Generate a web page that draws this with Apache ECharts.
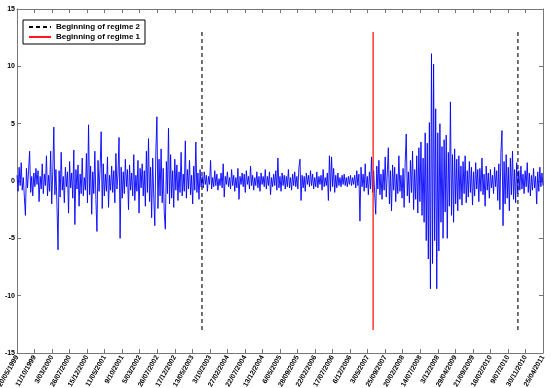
<!DOCTYPE html>
<html>
<head>
<meta charset="utf-8">
<script src="https://cdn.jsdelivr.net/npm/echarts@6/dist/echarts.min.js"></script>
<style>
html,body{margin:0;padding:0;background:#fff;}
#chart{width:551px;height:388px;}
</style>
</head>
<body>
<div id="chart"></div>
<script>
// tick labels on the x axis, one every 100 observations
var dateLabels = ['20/05/1999','11/10/1999','3/03/2000','26/07/2000','15/12/2000','11/05/2001','9/10/2001',
	'5/03/2002','26/07/2002','17/12/2002','13/05/2003','3/10/2003','27/02/2004','22/07/2004','13/12/2004',
	'6/05/2005','28/09/2005','22/02/2006','17/07/2006','6/12/2006','3/05/2007','25/09/2007','20/02/2008',
	'14/07/2008','3/12/2008','29/04/2009','21/09/2009','16/02/2010','9/07/2010','30/11/2010','25/04/2011'];

var returnsA = [0.5,-0.9,1.2,-0.4,1.6,-0.8,0.3,-1.4,-3.0,1.1,-0.6,0.9,2.6,-1.0,0.4,-1.3,0.7,-0.5,1.1,-0.3,
	0.9,-1.8,0.4,-0.7,1.5,-1.1,0.6,-0.4,2.2,-1.3,0.5,-0.9,2.6,-2.0,0.8,4.7,-1.2,1.0,-2.1,-6.0,
	0.9,-1.4,2.5,-0.8,0.4,-1.9,1.2,-0.5,0.8,-2.8,1.7,-0.6,0.7,-1.5,2.7,-3.8,1.0,-0.7,1.4,-2.2,
	0.6,-1.1,2.0,-1.3,0.3,-0.8,2.4,-1.9,4.9,-1.2,1.3,-2.9,0.8,-1.1,2.6,-1.6,-4.4,1.8,-0.9,1.1,
	4.3,-2.4,1.5,-1.3,0.6,-0.9,2.1,-2.3,0.5,-0.8,1.3,-1.0,0.9,-1.9,2.4,-0.7,0.6,3.8,-5.0,1.2,
	-1.5,0.8,-1.1,1.9,-0.5,1.0,-2.5,1.4,-0.8,0.7,-1.3,2.3,-1.7,0.5,-0.9,1.8,-2.8,1.1,-0.6,1.5,
	-1.3,0.9,-2.2,2.6,-1.0,3.7,-1.8,1.2,-3.2,2.0,-1.4,-3.9,2.6,5.6,-2.4,1.9,-1.3,2.8,-1.9,1.1,
	-2.8,-4.2,1.7,-1.1,4.6,-2.0,2.3,-1.5,0.9,-2.3,1.9,-0.8,1.4,-1.7,0.8,-1.0,2.5,-1.3,0.6,-0.9,
	3.5,-1.5,1.0,-0.7,1.8,-1.2,0.5,-2.0,1.3,-0.8,3.4,-1.0,0.7,-1.6,1.0,-0.5];
var returnsB = [0.4,-0.6,0.8,-0.3,0.5,-0.9,0.4,-0.3,1.8,-0.7,0.3,-0.5,0.9,-0.4,0.6,-0.8,0.2,-0.4,0.7,-0.6,
	1.5,-1.4,0.4,-0.3,0.8,-0.5,0.3,-0.7,1.0,-0.4,0.5,-0.9,0.3,-0.6,1.1,-1.6,0.4,-0.3,0.7,-0.5,
	0.6,-1.0,0.9,-0.3,0.4,-0.7,1.3,-0.4,0.5,-0.8,0.3,-0.4,0.8,-0.6,0.4,-0.9,0.7,-0.3,0.4,-0.5,
	1.0,-0.7,0.4,-0.4,0.8,-1.2,0.3,-0.5,0.6,-0.4,0.9,-0.8,2.0,-0.6,0.4,-0.9,0.7,-0.4,0.5,-0.7,
	0.4,-0.5,1.0,-0.6,0.3,-0.8,0.6,-0.4,0.8,-0.5,0.4,-0.7,1.2,1.9,-1.7,0.5,-0.6,0.4,-0.9,0.7,
	-0.3,0.5,-0.5,0.9,-0.4,0.6,-0.7,0.3,-0.5,0.8,-0.6,0.4,-0.3,0.5,-0.8,1.0,-0.5,0.3,-0.4,0.7,
	-1.7,2.2,-0.9,2.1,-0.5,1.1,-1.0,0.5,-0.6,0.7,-0.4,0.3,-0.5,0.5,-0.3,0.6,-0.4,0.3,-0.5,0.4,
	-0.3,0.5,-0.4,0.3,-0.3,0.5,-0.6,0.9,-0.4,0.6,-3.5,1.2,-0.5,0.6,-0.9,1.5,-0.6,0.4,-1.2,0.8,
	-0.7,2.1,-1.0];
var returnsC = [0.9,-1.1,-2.9,1.3,-0.7,1.8,-1.2,0.6,-1.6,1.0,-0.8,2.1,-1.4,0.7,2.9,-2.0,0.9,-2.6,1.4,-0.8,
	1.2,-1.8,0.6,-1.1,2.2,-0.9,0.5,-1.5,1.1,-2.3,1.6,4.1,-1.3,0.8,-1.9,1.8,-1.0,2.6,-2.5,1.0,
	-1.6,2.2,-2.8,2.9,-1.8,3.4,-3.0,2.0,-3.6,4.2,-5.2,3.3,-6.8,5.1,-9.4,11.1,-7.2,10.2,-5.2,6.3,
	-9.4,4.2,-6.1,5.0,-3.6,3.0,-5.0,3.6,-2.7,4.0,-5.0,2.5,-2.2,6.9,-3.0,2.3,-3.6,2.8,-2.0,1.9,
	-2.6,2.2,-1.6,1.3,-2.1,1.7,-1.1,2.2,-1.9,0.9,-1.4,1.7,-1.0,1.2,-2.1,0.8,-1.3,1.6,-0.7,1.0,
	-1.8,1.1,-0.9,2.0,-1.2,0.6,-2.2,1.3,-0.8,0.7,-1.5,1.0,-0.6,0.5,-1.1,1.2,-0.5,0.9,-1.7,1.5,
	-2.5,2.5,4.4,-3.9,1.7,-2.0,2.3,-1.5,1.2,-2.6,2.0,-1.2,2.6,-1.6,1.0,-1.9,1.6,-1.1,0.9,-0.8,
	1.3,-0.7,0.6,-1.1,0.9,-0.5,1.6,-1.0,0.7,-1.3,0.5,-0.8,1.1,-0.6,0.4,-2.0,0.8,-0.9,1.2,-0.5,0.7,-0.4];
var obsStep = 6;

// observation index where each regime starts, and the height of the marker lines
var regime2Starts = [1055, 2857];
var regime1Starts = [2031];
var markerHeight = 13;

var returns = returnsA.concat(returnsB, returnsC);
var seriesData = returns.map(function(v, i){ return [i * obsStep, v]; });

function vline(x){ return [[x, -markerHeight], [x, markerHeight]]; }

var font = 'Liberation Sans, Arial, sans-serif';
var series = [{
	name: 'returns',
	type: 'line',
	data: seriesData,
	showSymbol: false,
	symbol: 'none',
	lineStyle: {color: '#0000ff', width: 0.9},
	itemStyle: {color: '#0000ff'},
	animation: false,
	z: 2
}];
regime2Starts.forEach(function(x){
	series.push({
		name: 'Beginning of regime 2', type: 'line', data: vline(x), symbol: 'none',
		lineStyle: {color: '#000', width: 1.1, type: [4, 3]}, itemStyle: {color: '#000'},
		animation: false, z: 3
	});
});
regime1Starts.forEach(function(x){
	series.push({
		name: 'Beginning of regime 1', type: 'line', data: vline(x), symbol: 'none',
		lineStyle: {color: '#ff1a1a', width: 1.3}, itemStyle: {color: '#ff1a1a'},
		animation: false, z: 3
	});
});

var axisGrey = '#777';
var chart = echarts.init(document.getElementById('chart'));
chart.setOption({
	animation: false,
	grid: {left: 17, right: 8, top: 9, bottom: 35, containLabel: false, outerBoundsMode: 'none'},
	legend: {
		data: ['Beginning of regime 2', 'Beginning of regime 1'],
		orient: 'vertical', left: 23, top: 20,
		backgroundColor: '#fff', borderColor: '#000', borderWidth: 1,
		padding: [3, 5, 3, 5], itemGap: 2, itemWidth: 22, itemHeight: 8,
		itemStyle: {opacity: 0},
		textStyle: {fontSize: 8, fontWeight: 'bold', fontFamily: font, color: '#000'}
	},
	xAxis: [{
		type: 'value', min: 0, max: 3000, interval: 100,
		axisLine: {onZero: false, lineStyle: {color: axisGrey}},
		axisTick: {inside: true, length: 4, lineStyle: {color: axisGrey}},
		splitLine: {show: false},
		axisLabel: {
			rotate: 60, fontSize: 7, fontWeight: 'bold', fontFamily: font, color: '#000', margin: 3,
			formatter: function(v){ return dateLabels[Math.round(v / 100)] || ''; }
		}
	}, {
		type: 'value', min: 0, max: 3000, interval: 100, position: 'top',
		axisLine: {show: true, onZero: false, lineStyle: {color: axisGrey}},
		axisTick: {inside: true, length: 4, lineStyle: {color: axisGrey}},
		axisLabel: {show: false}, splitLine: {show: false}
	}],
	yAxis: [{
		type: 'value', min: -15, max: 15, interval: 5,
		axisLine: {show: true, onZero: false, lineStyle: {color: axisGrey}},
		axisTick: {show: true, inside: true, length: 4, lineStyle: {color: axisGrey}},
		splitLine: {show: false},
		axisLabel: {fontSize: 7, fontWeight: 'bold', fontFamily: font, color: '#000', margin: 2}
	}, {
		type: 'value', min: -15, max: 15, interval: 5, position: 'right',
		axisLine: {show: true, onZero: false, lineStyle: {color: axisGrey}},
		axisTick: {show: true, inside: true, length: 4, lineStyle: {color: axisGrey}},
		axisLabel: {show: false}, splitLine: {show: false}
	}],
	series: series
});
</script>
</body>
</html>
